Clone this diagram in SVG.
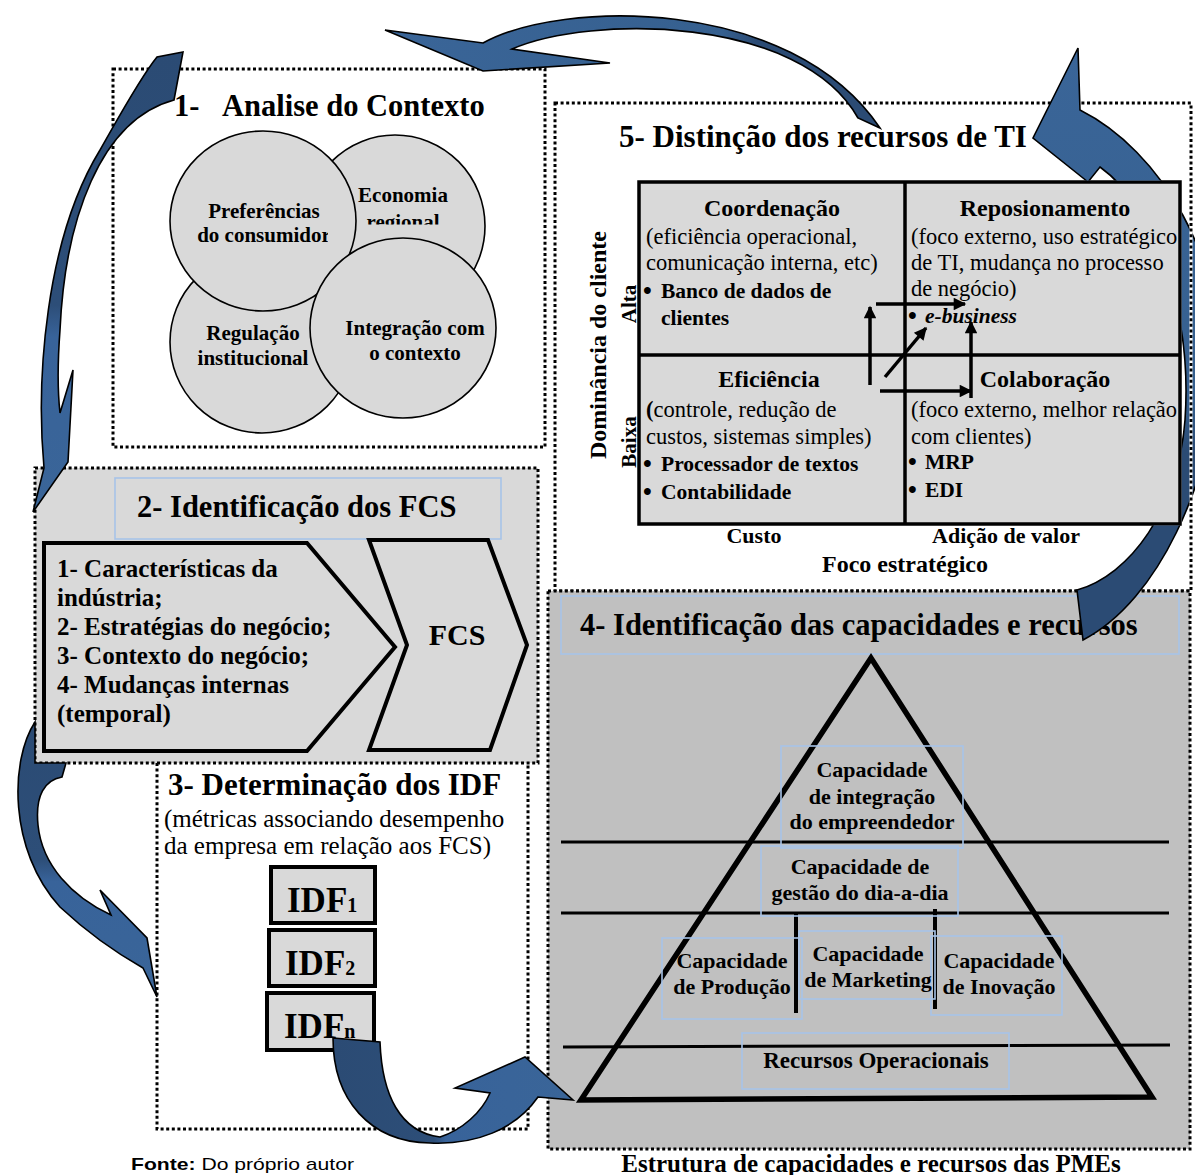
<svg xmlns="http://www.w3.org/2000/svg" width="1195" height="1175" viewBox="0 0 1195 1175">
<defs>
<style>
.dot{stroke:#000;stroke-width:3;stroke-dasharray:3 2.6}
.t{font-family:"Liberation Serif","Times New Roman",serif;font-weight:bold;fill:#000}
.r{font-weight:normal}
.b{font-size:25px;font-weight:bold}
.circ{fill:#d9d9d9;stroke:#000;stroke-width:1.6}
.lbl{fill:none;stroke:#a7c3e8;stroke-width:1.6}
.arr{stroke:#000;stroke-width:1.6;stroke-linejoin:miter}
.thin{stroke:#000;stroke-width:3;fill:none}
.mx{stroke:#000;stroke-width:3.5;fill:none}
</style>
<marker id="ah" viewBox="0 0 10 10" refX="9" refY="5" markerWidth="4.2" markerHeight="3.6" orient="auto">
<path d="M0,0 L10,5 L0,10 z" fill="#000"/>
</marker>
<clipPath id="cpPref"><rect x="160" y="190" width="168" height="70"/></clipPath>
<clipPath id="cpEco"><rect x="340" y="170" width="140" height="54.5"/></clipPath>
<clipPath id="cpR"><path clip-rule="evenodd" d="M0,0 H1195 V1175 H0 Z M637,180.5 V525.5 H1181.8 V180.5 Z M1189.4,103 V589.5 H1192.6 V103 Z"/></clipPath>
<linearGradient id="gTop" x1="0" y1="0" x2="1" y2="0"><stop offset="0" stop-color="#3a6598"/><stop offset="0.68" stop-color="#36608f"/><stop offset="0.75" stop-color="#2b4b74"/><stop offset="1" stop-color="#2b4b74"/></linearGradient>
<linearGradient id="gR" x1="0" y1="0" x2="0" y2="1"><stop offset="0" stop-color="#3a6598"/><stop offset="0.6" stop-color="#36608f"/><stop offset="0.68" stop-color="#2b4b74"/><stop offset="1" stop-color="#2b4b74"/></linearGradient>
<linearGradient id="gL1" x1="0" y1="0" x2="0" y2="1"><stop offset="0" stop-color="#2b4b74"/><stop offset="0.55" stop-color="#2d4e78"/><stop offset="0.62" stop-color="#38639a"/><stop offset="1" stop-color="#3a6598"/></linearGradient>
<linearGradient id="gL2" x1="0" y1="0" x2="0" y2="1"><stop offset="0" stop-color="#2b4b74"/><stop offset="0.5" stop-color="#2d4e78"/><stop offset="0.58" stop-color="#38639a"/><stop offset="1" stop-color="#3a6598"/></linearGradient>
<linearGradient id="gB" x1="0" y1="0" x2="1" y2="0"><stop offset="0" stop-color="#2b4b74"/><stop offset="0.42" stop-color="#2d4e78"/><stop offset="0.47" stop-color="#38639a"/><stop offset="1" stop-color="#3a6598"/></linearGradient>
</defs>
<rect width="1195" height="1175" fill="#fff"/>

<g id="box1">
<rect x="113" y="69" width="432" height="378" fill="#fff" class="dot"/>
<text class="t" x="174" y="116" font-size="30.5">1-</text>
<text class="t" x="222" y="116" font-size="30.5">Analise do Contexto</text>
<ellipse class="circ" cx="395" cy="226" rx="90" ry="91"/>
<ellipse class="circ" cx="262" cy="342" rx="92" ry="91"/>
<ellipse class="circ" cx="263" cy="221" rx="93" ry="90"/>
<ellipse class="circ" cx="403" cy="328" rx="93" ry="90"/>
<text class="t" x="264" y="218" font-size="21" text-anchor="middle">Preferências</text>
<text class="t" x="264" y="242" font-size="21" text-anchor="middle" clip-path="url(#cpPref)">do consumidor</text>
<text class="t" x="403" y="202" font-size="21" text-anchor="middle">Economia</text>
<text class="t" x="403" y="229" font-size="21" text-anchor="middle" clip-path="url(#cpEco)">regional</text>
<text class="t" x="253" y="340" font-size="21" text-anchor="middle">Regulação</text>
<text class="t" x="253" y="365" font-size="21" text-anchor="middle">institucional</text>
<text class="t" x="415" y="335" font-size="21" text-anchor="middle">Integração com</text>
<text class="t" x="415" y="360" font-size="21" text-anchor="middle">o contexto</text>
</g>

<g id="box5">
<rect x="555" y="103" width="636" height="488" fill="#fff" class="dot"/>
<text class="t" x="619" y="147" font-size="31">5- Distinção dos recursos de TI</text>
<rect x="639" y="182" width="541" height="342" fill="#d9d9d9" stroke="#000" stroke-width="3.5"/>
<line class="mx" x1="905" y1="182" x2="905" y2="524"/>
<line class="mx" x1="639" y1="355" x2="1180" y2="355"/>
<text class="t" x="772" y="216" font-size="24" text-anchor="middle">Coordenação</text>
<text class="t r" x="646" y="244" font-size="22.5">(eficiência operacional,</text>
<text class="t r" x="646" y="270" font-size="22.5">comunicação interna, etc)</text>
<text class="t b" x="643" y="299">•</text>
<text class="t" x="661" y="298" font-size="21.5">Banco de dados de</text>
<text class="t" x="661" y="325" font-size="21.5">clientes</text>
<text class="t" x="1045" y="216" font-size="24" text-anchor="middle">Reposionamento</text>
<text class="t r" x="911" y="244" font-size="22.5">(foco externo, uso estratégico</text>
<text class="t r" x="911" y="270" font-size="22.5">de TI, mudança no processo</text>
<text class="t r" x="911" y="296" font-size="22.5">de negócio)</text>
<text class="t b" x="908" y="324">•</text>
<text class="t" x="925" y="323" font-size="21.5" font-style="italic">e-business</text>
<text class="t" x="769" y="387" font-size="24" text-anchor="middle">Eficiência</text>
<text class="t r" x="646" y="417" font-size="22.5"><tspan font-weight="bold">(</tspan>controle, redução de</text>
<text class="t r" x="646" y="444" font-size="22.5">custos, sistemas simples)</text>
<text class="t b" x="643" y="472">•</text>
<text class="t" x="661" y="471" font-size="21.5">Processador de textos</text>
<text class="t b" x="643" y="500">•</text>
<text class="t" x="661" y="499" font-size="21.5">Contabilidade</text>
<text class="t" x="1045" y="387" font-size="24" text-anchor="middle">Colaboração</text>
<text class="t r" x="911" y="417" font-size="22.5">(foco externo, melhor relação</text>
<text class="t r" x="911" y="444" font-size="22.5">com clientes)</text>
<text class="t b" x="908" y="470">•</text>
<text class="t" x="925" y="469" font-size="21.5">MRP</text>
<text class="t b" x="908" y="498">•</text>
<text class="t" x="925" y="497" font-size="21.5">EDI</text>
<text class="t" font-size="24" text-anchor="middle" transform="translate(606,345) rotate(-90)">Dominância do cliente</text>
<text class="t" font-size="21" text-anchor="middle" transform="translate(636,304) rotate(-90)">Alta</text>
<text class="t" font-size="21" text-anchor="middle" transform="translate(636,442) rotate(-90)">Baixa</text>
<text class="t" x="754" y="543" font-size="22" text-anchor="middle">Custo</text>
<text class="t" x="1006" y="543" font-size="22" text-anchor="middle">Adição de valor</text>
<text class="t" x="905" y="572" font-size="24" text-anchor="middle">Foco estratégico</text>
<g stroke="#000" stroke-width="3.5" marker-end="url(#ah)">
<line x1="870" y1="385" x2="870" y2="307"/>
<line x1="876" y1="304" x2="965" y2="304"/>
<line x1="885" y1="377" x2="926" y2="328"/>
<line x1="880" y1="391" x2="971" y2="391"/>
<line x1="971" y1="398" x2="971" y2="322"/>
</g>
</g>

<g id="box4">
<rect x="548" y="591" width="642" height="558" fill="#c0c0c0" class="dot"/>
<rect class="lbl" x="561" y="596" width="618" height="58"/>
<text class="t" x="580" y="635" font-size="30.5">4- Identificação das capacidades e recursos</text>
<polygon points="871,658 581,1100 1152,1097" fill="none" stroke="#000" stroke-width="5.5"/>
<line class="thin" x1="561" y1="842" x2="1169" y2="842"/>
<line class="thin" x1="561" y1="913" x2="1169" y2="913"/>
<line class="thin" x1="563" y1="1047" x2="1170" y2="1045"/>
<line x1="796" y1="914" x2="796" y2="1013" stroke="#000" stroke-width="4"/>
<line x1="935" y1="909" x2="935" y2="1009" stroke="#000" stroke-width="4"/>
<rect class="lbl" x="781" y="746" width="182" height="102"/>
<rect class="lbl" x="761" y="846" width="197" height="70"/>
<rect class="lbl" x="662" y="938" width="140" height="81"/>
<rect class="lbl" x="799" y="931" width="136" height="68"/>
<rect class="lbl" x="931" y="936" width="131" height="79"/>
<rect class="lbl" x="742" y="1033" width="267" height="56"/>
<text class="t" x="872" y="777" font-size="22" text-anchor="middle">Capacidade</text>
<text class="t" x="872" y="804" font-size="22" text-anchor="middle">de integração</text>
<text class="t" x="872" y="829" font-size="22" text-anchor="middle">do empreendedor</text>
<text class="t" x="860" y="874" font-size="22" text-anchor="middle">Capacidade de</text>
<text class="t" x="860" y="900" font-size="22" text-anchor="middle">gestão do dia-a-dia</text>
<text class="t" x="732" y="968" font-size="22" text-anchor="middle">Capacidade</text>
<text class="t" x="732" y="994" font-size="22" text-anchor="middle">de Produção</text>
<text class="t" x="868" y="961" font-size="22" text-anchor="middle">Capacidade</text>
<text class="t" x="868" y="987" font-size="22" text-anchor="middle">de Marketing</text>
<text class="t" x="999" y="968" font-size="22" text-anchor="middle">Capacidade</text>
<text class="t" x="999" y="994" font-size="22" text-anchor="middle">de Inovação</text>
<text class="t" x="876" y="1068" font-size="23" text-anchor="middle">Recursos Operacionais</text>
<text class="t" x="871" y="1172" font-size="25" text-anchor="middle">Estrutura de capacidades e recursos das PMEs</text>
</g>

<g id="box3">
<path d="M157,763 V1129 H528 V763" fill="#fff" class="dot"/>
<text class="t" x="168" y="795" font-size="31">3- Determinação dos IDF</text>
<text class="t r" x="164" y="827" font-size="25">(métricas associando desempenho</text>
<text class="t r" x="164" y="854" font-size="25">da empresa em relação aos FCS)</text>
<rect x="271" y="867" width="104" height="56" fill="#d9d9d9" stroke="#000" stroke-width="4"/>
<rect x="269" y="930" width="106" height="56" fill="#d9d9d9" stroke="#000" stroke-width="4"/>
<rect x="267" y="993" width="107" height="57" fill="#d9d9d9" stroke="#000" stroke-width="4"/>
<text class="t" x="287" y="912" font-size="35">IDF<tspan font-size="20">1</tspan></text>
<text class="t" x="285" y="975" font-size="35">IDF<tspan font-size="20">2</tspan></text>
<text class="t" x="284" y="1038" font-size="35">IDF<tspan font-size="20">n</tspan></text>
</g>

<g id="box2">
<rect x="35" y="468" width="503" height="295" fill="#d9d9d9" class="dot"/>
<rect class="lbl" x="115" y="478" width="386" height="61"/>
<text class="t" x="137" y="517" font-size="30.5">2- Identificação dos FCS</text>
<polygon points="44,543 307,543 395,647 307,751 44,751" fill="#d9d9d9" stroke="#000" stroke-width="4"/>
<polygon points="369,540 488,540 527,645 490,750 369,750 407,645" fill="#d9d9d9" stroke="#000" stroke-width="4"/>
<text class="t" x="57" y="577" font-size="25">1- Características da</text>
<text class="t" x="57" y="606" font-size="25">indústria;</text>
<text class="t" x="57" y="635" font-size="25">2- Estratégias do negócio;</text>
<text class="t" x="57" y="664" font-size="25">3- Contexto do negócio;</text>
<text class="t" x="57" y="693" font-size="25">4- Mudanças internas</text>
<text class="t" x="57" y="722" font-size="25">(temporal)</text>
<text class="t" x="457" y="645" font-size="30" text-anchor="middle">FCS</text>
</g>

<g id="connectors">
<path class="arr" fill="url(#gTop)" d="M483,43 C560,0 790,-5 880,128 L858,118 C800,15 590,15 512,49 L610,63 L483,71 L385,30 Z"/>
<path class="arr" fill="url(#gR)" clip-path="url(#cpR)" d="M1080,110 C1160,150 1228,260 1218,380 C1210,480 1160,600 1083,640 L1077,590 C1130,575 1178,510 1185,420 C1192,320 1160,210 1100,167 L1088,182 L1033,138 L1078,48 Z"/>
<path class="arr" fill="url(#gL1)" d="M44,468 C36,380 45,240 100,150 C120,115 140,78 157,57 L183,52 L174,100 C100,120 65,220 60,330 C57,370 58,395 60,413 L73,370 L68,462 L33,512 Z"/>
<path class="arr" fill="url(#gL2)" d="M35,722 C10,760 8,850 60,907 C90,935 120,955 143,968 L157,997 L147,938 L100,890 L111,915 C72,897 42,865 38,825 C35,795 45,780 62,777 L66,763 L35,763 Z"/>
<path class="arr" fill="url(#gB)" d="M333,1038 L380,1042 C382,1095 400,1132 440,1137 C462,1130 482,1112 490,1093 L455,1088 L525,1057 L573,1100 L538,1097 C515,1130 475,1145 430,1143 C370,1142 333,1100 333,1038 Z"/>
</g>

<text x="131" y="1170" font-family="'Liberation Sans',Arial,sans-serif" font-size="17" textLength="223" lengthAdjust="spacingAndGlyphs"><tspan font-weight="bold">Fonte:</tspan> Do próprio autor</text>
</svg>
